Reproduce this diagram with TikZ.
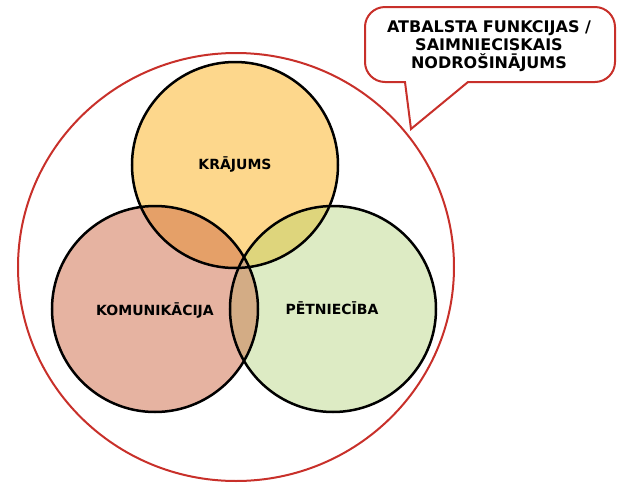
\documentclass[tikz,border=0pt]{standalone}
\usepackage{fontspec}
\newfontfamily\vennfont{DejaVu Sans}
\definecolor{ringred}{HTML}{C8302A}
\definecolor{kragold}{HTML}{FDD78C}
\definecolor{komrose}{HTML}{E6B3A1}
\definecolor{petgreen}{HTML}{DDEBC4}
\definecolor{krakom}{HTML}{E5A068}
\definecolor{krapet}{HTML}{DED57C}
\definecolor{kompet}{HTML}{D3AC85}
\newcommand{\vennr}{103}
\begin{document}
\begin{tikzpicture}[x=0.5pt,y=-0.5pt,
  ring/.style={draw=black, line width=1.25pt},
  outer/.style={draw=ringred, line width=1pt},
  label text/.style={font=\vennfont\bfseries\fontsize{7}{8}\selectfont},
  note text/.style={font=\vennfont\bfseries\fontsize{8}{9}\selectfont, align=center}]
\useasboundingbox (0,0) rectangle (623,483);
\path (235,165) coordinate (kra)
      (155,309) coordinate (kom)
      (333,309) coordinate (pet)
      (236,267) coordinate (mid);

% fills and overlaps
\fill[kragold] (kra) circle[radius=\vennr];
\fill[komrose] (kom) circle[radius=\vennr];
\fill[petgreen] (pet) circle[radius=\vennr];
\begin{scope}
  \clip (kra) circle[radius=\vennr];
  \fill[krakom] (kom) circle[radius=\vennr];
  \fill[krapet] (pet) circle[radius=\vennr];
\end{scope}
\begin{scope}
  \clip (kom) circle[radius=\vennr];
  \fill[kompet] (pet) circle[radius=\vennr];
\end{scope}
\draw[ring] (kra) circle[radius=\vennr];
\draw[ring] (kom) circle[radius=\vennr];
\draw[ring] (pet) circle[radius=\vennr];

\draw[outer] (mid) ellipse[x radius=218, y radius=214];

\node[label text] (krajums) at (235,165) {KRĀJUMS};
\node[label text] (komunikacija) at (155,311) {KOMUNIKĀCIJA};
\node[label text] (petnieciba) at (332,308) {PĒTNIECĪBA};

% callout
\node[note text] (note) at (489,46) {ATBALSTA FUNKCIJAS /\\SAIMNIECISKAIS\\NODROŠINĀJUMS};
\draw[outer]
     (411,129) coordinate (tip)
  -- (405,82)
  {[rounded corners=10] -- (365,82) -- (365,7) -- (615,7) -- (615,82)}
  -- (468,82)
  -- cycle;
\end{tikzpicture}
\end{document}
